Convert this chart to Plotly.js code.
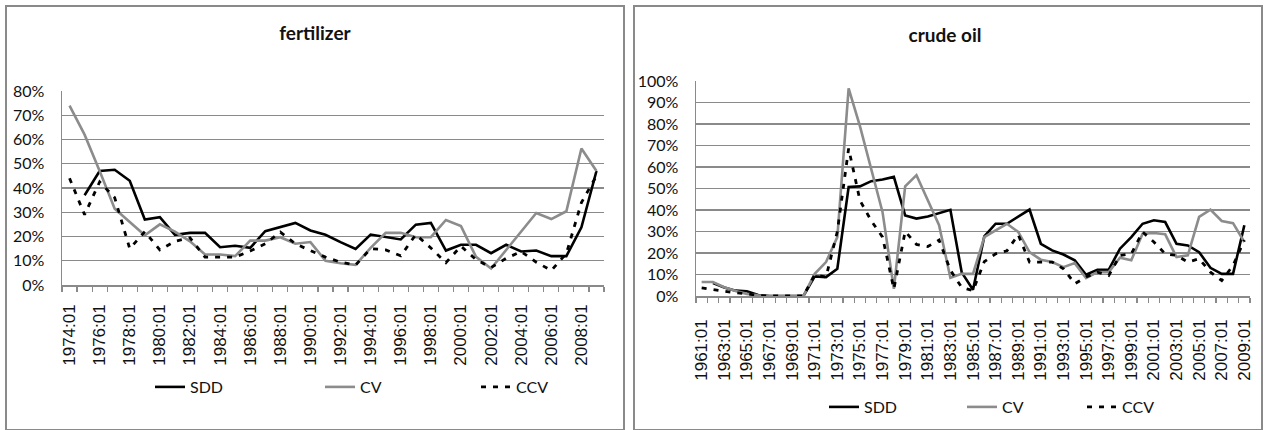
<!DOCTYPE html>
<html>
<head>
<meta charset="utf-8">
<script src="https://cdn.plot.ly/plotly-3.0.1.min.js"></script>
<style>
  html, body { margin:0; padding:0; background:#fff; width:1268px; height:430px; overflow:hidden; }
  .chart { position:absolute; top:0; width:634px; height:430px; }
  .frame { position:absolute; box-sizing:border-box; border:2px solid #8a8a8a; pointer-events:none; }
</style>
</head>
<body>
<div id="c1" class="chart" style="left:0px"></div>
<div id="c2" class="chart" style="left:634px"></div>
<div class="frame" style="left:5px;top:5px;width:620px;height:426px"></div>
<div class="frame" style="left:633px;top:5px;width:630px;height:426px"></div>
<script>
// ---------- fertilizer ----------
const fertLabels = ["1974:01","1975:01","1976:01","1977:01","1978:01","1979:01","1980:01","1981:01","1982:01","1983:01",
  "1984:01","1985:01","1986:01","1987:01","1988:01","1989:01","1990:01","1991:01","1992:01","1993:01",
  "1994:01","1995:01","1996:01","1997:01","1998:01","1999:01","2000:01","2001:01","2002:01","2003:01",
  "2004:01","2005:01","2006:01","2007:01","2008:01","2009:01"];
const fertSDD = [null, 37, 47, 47.5, 43, 27, 28, 20.7, 21.5, 21.5, 15.6, 16.2, 15.3, 22.2, 23.8, 25.6, 22.5, 20.7, 17.7, 14.9,
  20.8, 19.7, 18.8, 24.9, 25.6, 14.2, 16.6, 16.6, 13.1, 16.6, 13.8, 14.2, 11.9, 11.9, 23.8, 47];
const fertCV = [74, 62, 47, 31.5, 26, 20.5, 25, 22, 18, 12.6, 12.6, 11.9, 18.3, 18.3, 19.7, 17, 17.7, 10, 9, 8.3,
  15.3, 21.5, 21.5, 19.7, 19.7, 26.8, 24.3, 11.6, 6.8, 14.5, 22.1, 29.7, 27.2, 30.4, 56.3, 47];
const fertCCV = [44, 29, 42.5, 36, 15, 22, 14.5, 18, 19.5, 11.5, 11.5, 11.5, 14, 17, 21.8, 17, 14.2, 11.5, 9.4, 8.2,
  15, 14.5, 12, 20.8, 15.3, 9.2, 16, 10.5, 7.2, 11, 13.8, 9.4, 6, 13, 34, 45];

// ---------- crude oil ----------
const oilLabels = ["1961:01","1962:01","1963:01","1964:01","1965:01","1966:01","1967:01","1968:01","1969:01","1970:01",
  "1971:01","1972:01","1973:01","1974:01","1975:01","1976:01","1977:01","1978:01","1979:01","1980:01",
  "1981:01","1982:01","1983:01","1984:01","1985:01","1986:01","1987:01","1988:01","1989:01","1990:01",
  "1991:01","1992:01","1993:01","1994:01","1995:01","1996:01","1997:01","1998:01","1999:01","2000:01",
  "2001:01","2002:01","2003:01","2004:01","2005:01","2006:01","2007:01","2008:01","2009:01"];
const oilSDD = [null, 6, 4, 2.5, 2.2, 0.5, 0, 0, 0, 0, 9.1, 8.8, 12.7, 50.7, 51, 53.4, 54.2, 55.4, 37.5, 36,
  37, 38.6, 40.1, 11, 2.9, 27.7, 33.6, 33.6, 36.8, 40.2, 24.3, 21.2, 19.3, 16.6, 9.9, 12.2, 12.2, 22, 27.4, 33.6,
  35.2, 34.4, 24.3, 23.5, 20.4, 13.1, 10.3, 10.3, 32.9];
const oilCV = [6.5, 6.5, 4.1, 2.3, 1, 0.3, 0, 0, 0, 0, 10.3, 15.8, 27.4, 96.6, 79, 59.3, 39, 3.3, 51, 56.2,
  44.5, 32.9, 8.5, 10.3, 10.3, 27.4, 30.5, 33.6, 29.8, 20.4, 16.9, 15.8, 13.4, 15.3, 8.3, 11.1, 11.1, 17.8, 16.6, 29,
  29.3, 28.7, 18.1, 18.9, 36.8, 40.2, 34.9, 33.9, 25.1];
const oilCCV = [3.8, 3, 2, 1.5, 1, 0.3, 0, 0, 0, 0, 9.9, 8.8, 30, 68.6, 44.5, 35, 27.4, 3.3, 30, 24,
  23, 26, 12, 4, 2.5, 16, 19.6, 21, 28.5, 15.8, 15.8, 15.8, 12.7, 5.7, 8.8, 11.1, 9.5, 18.9, 19.6, 29.8,
  25.1, 19.6, 18.9, 15.8, 17.3, 11.1, 7.2, 14.2, 26];

const seriesNames = ["SDD", "CV", "CCV"];

const GRID = '#8a8a8a';
const TXT = '#111';
const W = 634, H = 430;

function draw(id, cfg) {
  const xs = cfg.labels.map((_, i) => i);
  const tv = xs.filter(i => i % 2 === 0);
  const tt = tv.map(i => cfg.labels[i]);
  const styles = [
    {color:'#000000', width:2.6},
    {color:'#8c8c8c', width:2.6},
    {color:'#000000', width:2.8, dash:'5px,7px'}
  ];
  const traces = cfg.series.map((s, k) => ({
    type:'scatter', mode:'lines', x: xs, y: s, name: seriesNames[k],
    line: styles[k], connectgaps:false,
    legend: k === 0 ? 'legend' : 'legend' + (k + 1)
  }));
  const legFont = {family:'Lato, "Open Sans", sans-serif', size:16, color:TXT};
  const mkLeg = (px) => ({
    x: px / W, xref:'container', xanchor:'left',
    y: 1 - cfg.legY / H, yref:'container', yanchor:'middle',
    orientation:'h', font: legFont, bgcolor:'rgba(0,0,0,0)', borderwidth:0,
    itemwidth: 30, tracegroupgap:0, itemclick:false
  });
  const layout = {
    width: W, height: H,
    margin: {l: cfg.m.l, r: cfg.m.r, t: cfg.m.t, b: cfg.m.b, pad:0},
    paper_bgcolor:'rgba(0,0,0,0)', plot_bgcolor:'rgba(0,0,0,0)',
    showlegend: true,
    title: {text: cfg.title, x: cfg.titleX / W, xref:'container', xanchor:'center',
            y: 1 - cfg.titleY / H, yref:'container', yanchor:'middle',
            font: {family:'Lato, "Open Sans", sans-serif', size:19, color:TXT, weight:'bold'}},
    xaxis: {
      type:'linear', range:[-0.5, cfg.labels.length - 0.5], fixedrange:true,
      tickmode:'array', tickvals: tv, ticktext: tt, tickangle:-90,
      ticks:'', showgrid:false, zeroline:false,
      showline:true, linecolor:GRID, linewidth:1.5,
      ticklabelstandoff: cfg.xStand,
      tickfont:{family:'"Liberation Sans", Arial, sans-serif', size: cfg.xFont, color:TXT},
      minor:{ticks:'outside', ticklen:5, tickcolor:GRID, tickwidth:1.2, tick0:-0.5, dtick:1, showgrid:false}
    },
    yaxis: {
      range:[0, cfg.ymax], dtick:10, tick0:0, ticksuffix:'%', fixedrange:true,
      showgrid:true, gridcolor:GRID, gridwidth:1.4, zeroline:false,
      showline:true, linecolor:GRID, linewidth:1.5, ticks:'',
      ticklabelstandoff: 13,
      tickfont:{family:'Lato, "Open Sans", sans-serif', size:16, color:TXT}
    },
    legend: mkLeg(cfg.legX[0]),
    legend2: mkLeg(cfg.legX[1]),
    legend3: mkLeg(cfg.legX[2])
  };
  Plotly.newPlot(id, traces, layout, {staticPlot:true, displayModeBar:false});
}

draw('c1', {
  labels: fertLabels, series:[fertSDD, fertCV, fertCCV], title:'fertilizer',
  ymax:80, m:{l:62, r:30, t:91, b:145}, titleX:315, titleY:33,
  legY:387, legX:[150, 320, 476], xFont:17, xStand:11
});
draw('c2', {
  labels: oilLabels, series:[oilSDD, oilCV, oilCCV], title:'crude oil',
  ymax:100, m:{l:62, r:18, t:81, b:134}, titleX:311, titleY:35,
  legY:407, legX:[190, 328, 448], xFont:17, xStand:15
});
</script>
</body>
</html>
